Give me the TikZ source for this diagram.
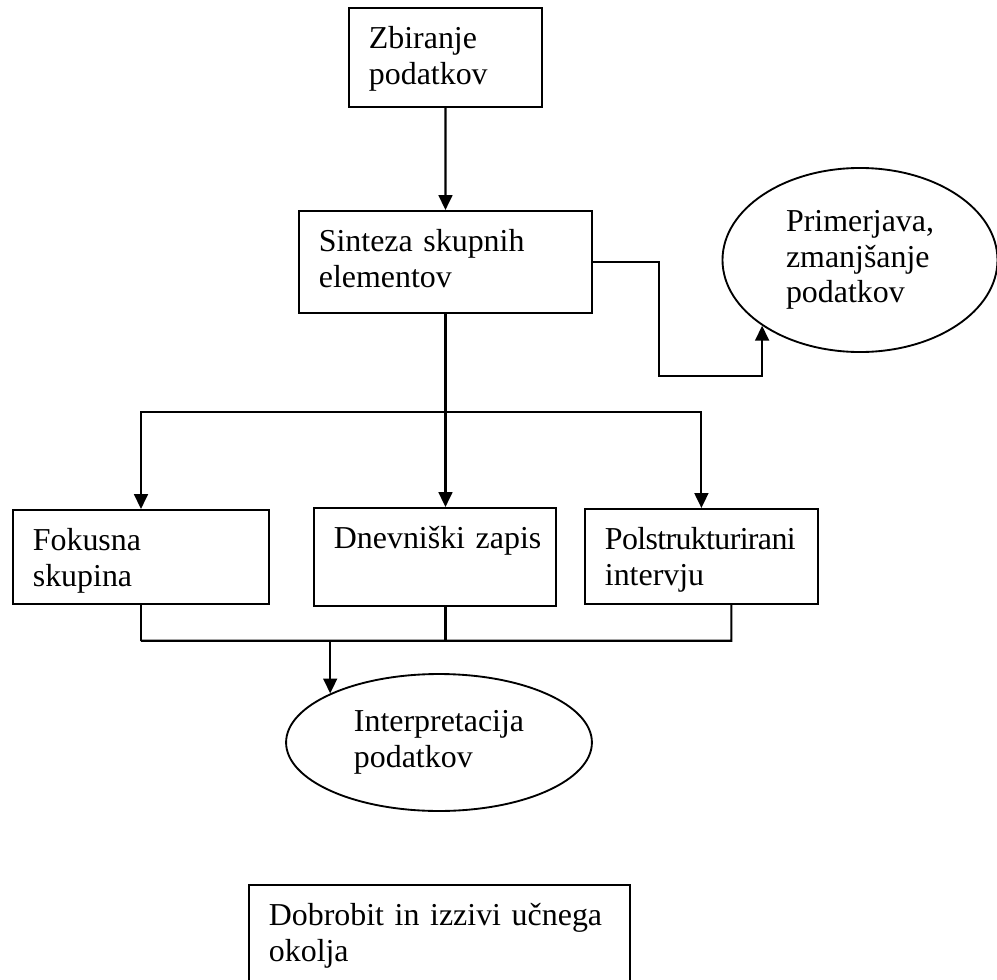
\documentclass[tikz,border=0pt]{standalone}
\usepackage{fontspec}
\setmainfont{Liberation Serif}
\usetikzlibrary{shapes.geometric,arrows.meta}

\tikzset{
  stage/.style={draw, line width=0.7pt, anchor=north west, align=left,
    inner xsep=7.5pt, inner ysep=6pt, text height=9.4pt},
  oval/.style={draw, ellipse, line width=0.7pt, inner sep=0pt, align=left},
  link/.style={line width=0.8pt},
  arr/.style={link, -{Triangle[length=5.6pt,width=5.2pt]}},
}

\begin{document}
\begin{tikzpicture}[x=0.376pt, y=-0.376pt, font=\fontsize{12}{13.4}\selectfont]
  \useasboundingbox (0,0) rectangle (997,980);

  \node[stage, text width=57.6pt, text depth=15.8pt] (zbir) at (348,7) {Zbiranje\\podatkov};
  \node[stage, text width=95.2pt, text depth=17pt] (sint) at (298,210) {Sinteza skupnih\\elementov};
  \node[oval, minimum width=103.4pt, minimum height=69.2pt] (prim) at (860,260) {Primerjava,\\zmanjšanje\\podatkov};

  \node[stage, text width=81.3pt, text depth=13.9pt] (fok) at (12,509) {Fokusna\\skupina};
  \node[stage, text width=76pt, text depth=15.4pt] (dnev) at (313,507) {\mbox{Dnevniški zapis}};
  \node[stage, text width=72.6pt, text depth=14.3pt] (pol) at (584,508)
    {{\addfontfeature{LetterSpace=-2}Polstrukturirani}\\intervju};

  \node[oval, minimum width=115pt, minimum height=51.5pt] (interp) at (439,742.5) {Interpretacija\\podatkov};

  \node[stage, text width=128.3pt, text depth=40pt] (dob) at (248,884) {Dobrobit in izzivi učnega\\okolja};

  % top part
  \draw[arr] (zbir) -- (sint);
  \path (sint.south) ++(0,98) coordinate (split);
  \draw[link] (sint.south) -- (split);
  \draw[arr] (split) -| (fok.north);
  \draw[arr] (split) -| (pol.north);
  \draw[arr] (split) -- (split |- dnev.north);
  \draw[arr] (sint.east) -- ++(66,0) -- ++(0,114) -| (prim.south west);

  % merge into interpretation
  \path (fok.south) ++(0,36) coordinate (merge);
  \draw[link] (fok.south) -- (merge);
  \draw[link] (sint.south |- dnev.south) -- (sint.south |- merge);
  \draw[link] (pol.south) ++(30,0) -- ++(0,36) -- (merge);
  \draw[arr] (interp.north west |- merge) -- (interp.north west);
\end{tikzpicture}
\end{document}
